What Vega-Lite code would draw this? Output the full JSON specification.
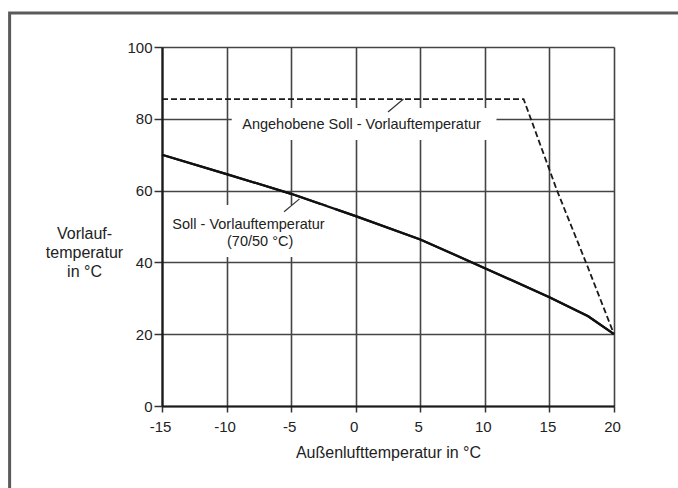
{
  "$schema": "https://vega.github.io/schema/vega-lite/v6.json",
  "width": 452,
  "height": 359,
  "autosize": "none",
  "padding": {"left": 162, "top": 47, "right": 64, "bottom": 82},
  "background": "white",
  "config": {
    "view": {"stroke": null},
    "font": "Liberation Sans",
    "axis": {
      "gridColor": "#444444",
      "gridWidth": 1.6,
      "domainColor": "#1a1a1a",
      "domainWidth": 2.2,
      "tickColor": "#333333",
      "tickWidth": 1.5,
      "labelColor": "#222222",
      "titleColor": "#222222",
      "labelFontSize": 15,
      "titleFontSize": 16,
      "titleFontWeight": "normal",
      "labelFlush": false
    }
  },
  "datasets": {
    "curves": [
      {"aussen": -15, "vorlauf": 70.0, "kurve": "Soll - Vorlauftemperatur (70/50 °C)"},
      {"aussen": -10, "vorlauf": 64.6, "kurve": "Soll - Vorlauftemperatur (70/50 °C)"},
      {"aussen": -5, "vorlauf": 59.1, "kurve": "Soll - Vorlauftemperatur (70/50 °C)"},
      {"aussen": 0, "vorlauf": 52.9, "kurve": "Soll - Vorlauftemperatur (70/50 °C)"},
      {"aussen": 5, "vorlauf": 46.4, "kurve": "Soll - Vorlauftemperatur (70/50 °C)"},
      {"aussen": 10, "vorlauf": 38.4, "kurve": "Soll - Vorlauftemperatur (70/50 °C)"},
      {"aussen": 15, "vorlauf": 30.3, "kurve": "Soll - Vorlauftemperatur (70/50 °C)"},
      {"aussen": 18, "vorlauf": 25.0, "kurve": "Soll - Vorlauftemperatur (70/50 °C)"},
      {"aussen": 20, "vorlauf": 20.0, "kurve": "Soll - Vorlauftemperatur (70/50 °C)"},
      {"aussen": -15, "vorlauf": 85.5, "kurve": "Angehobene Soll - Vorlauftemperatur"},
      {"aussen": 13.0, "vorlauf": 85.5, "kurve": "Angehobene Soll - Vorlauftemperatur"},
      {"aussen": 13.6, "vorlauf": 79.6, "kurve": "Angehobene Soll - Vorlauftemperatur"},
      {"aussen": 15.6, "vorlauf": 59.9, "kurve": "Angehobene Soll - Vorlauftemperatur"},
      {"aussen": 17.85, "vorlauf": 39.8, "kurve": "Angehobene Soll - Vorlauftemperatur"},
      {"aussen": 20, "vorlauf": 20.0, "kurve": "Angehobene Soll - Vorlauftemperatur"}
    ],
    "one": [{"a": 1}]
  },
  "layer": [
    {
      "data": {"name": "curves"},
      "transform": [{"filter": "datum.kurve === 'Soll - Vorlauftemperatur (70/50 °C)'"}],
      "mark": {"type": "line", "color": "#111111", "strokeWidth": 2.2},
      "encoding": {
        "x": {
          "field": "aussen", "type": "quantitative",
          "scale": {"domain": [-15, 20], "nice": false, "zero": false},
          "axis": {
            "values": [-15, -10, -5, 0, 5, 10, 15, 20],
            "grid": true,
            "tickSize": 6,
            "labelPadding": 7,
            "labelOffset": -2,
            "labelExpr": "toString(datum.value)",
            "title": "Außenlufttemperatur in °C",
            "titleBaseline": "alphabetic",
            "titleX": 226,
            "titleY": 51
          }
        },
        "y": {
          "field": "vorlauf", "type": "quantitative",
          "scale": {"domain": [0, 100], "nice": false},
          "axis": {
            "values": [0, 20, 40, 60, 80, 100],
            "grid": true,
            "tickSize": 8,
            "labelPadding": 2,
            "title": ["Vorlauf-", "temperatur", "in °C"],
            "titleAngle": 0,
            "titleAlign": "center",
            "titleBaseline": "middle",
            "titleLineHeight": 19,
            "titleX": -78,
            "titleY": 186
          }
        }
      }
    },
    {
      "data": {"name": "one"},
      "mark": {"type": "rect", "filled": false, "stroke": "#5a5a5a", "strokeWidth": 3},
      "encoding": {
        "x": {"datum": -26.8, "type": "quantitative"},
        "x2": {"datum": 25.5},
        "y": {"datum": 109.5, "type": "quantitative"},
        "y2": {"datum": -25}
      }
    },
    {
      "data": {"name": "one"},
      "mark": {"type": "rect", "fill": "white"},
      "encoding": {
        "x": {"datum": -9.6, "type": "quantitative"},
        "x2": {"datum": 10.9},
        "y": {"datum": 83.0, "type": "quantitative"},
        "y2": {"datum": 74.1}
      }
    },
    {
      "data": {"name": "one"},
      "mark": {"type": "rect", "fill": "white"},
      "encoding": {
        "x": {"datum": -14.5, "type": "quantitative"},
        "x2": {"datum": -1.6},
        "y": {"datum": 56.0, "type": "quantitative"},
        "y2": {"datum": 41.5}
      }
    },
    {
      "data": {"name": "curves"},
      "transform": [{"filter": "datum.kurve === 'Soll - Vorlauftemperatur (70/50 °C)'"}],
      "mark": {"type": "line", "color": "#111111", "strokeWidth": 2.2},
      "encoding": {
        "x": {"field": "aussen", "type": "quantitative"},
        "y": {"field": "vorlauf", "type": "quantitative"}
      }
    },
    {
      "data": {"name": "curves"},
      "transform": [{"filter": "datum.kurve === 'Angehobene Soll - Vorlauftemperatur'"}],
      "mark": {"type": "line", "color": "#1a1a1a", "strokeWidth": 1.8, "strokeDash": [6, 3]},
      "encoding": {
        "x": {"field": "aussen", "type": "quantitative"},
        "y": {"field": "vorlauf", "type": "quantitative"}
      }
    },
    {
      "data": {"name": "one"},
      "mark": {"type": "rule", "color": "#333333", "strokeWidth": 1.2},
      "encoding": {
        "x": {"datum": 2.5, "type": "quantitative"},
        "x2": {"datum": 3.7},
        "y": {"datum": 81.9, "type": "quantitative"},
        "y2": {"datum": 85.5}
      }
    },
    {
      "data": {"name": "one"},
      "mark": {"type": "rule", "color": "#333333", "strokeWidth": 1.2},
      "encoding": {
        "x": {"datum": -5.55, "type": "quantitative"},
        "x2": {"datum": -4.35},
        "y": {"datum": 54.1, "type": "quantitative"},
        "y2": {"datum": 57.7}
      }
    },
    {
      "data": {"name": "one"},
      "mark": {"type": "text", "fontSize": 14.5, "color": "#222222", "align": "center", "baseline": "alphabetic"},
      "encoding": {
        "x": {"datum": 0.45, "type": "quantitative"},
        "y": {"datum": 77.1, "type": "quantitative"},
        "text": {"value": "Angehobene Soll - Vorlauftemperatur"}
      }
    },
    {
      "data": {"name": "one"},
      "mark": {"type": "text", "fontSize": 14.5, "color": "#222222", "align": "center", "baseline": "alphabetic"},
      "encoding": {
        "x": {"datum": -8.3, "type": "quantitative"},
        "y": {"datum": 49.4, "type": "quantitative"},
        "text": {"value": "Soll - Vorlauftemperatur"}
      }
    },
    {
      "data": {"name": "one"},
      "mark": {"type": "text", "fontSize": 14.5, "color": "#222222", "align": "center", "baseline": "alphabetic"},
      "encoding": {
        "x": {"datum": -7.4, "type": "quantitative"},
        "y": {"datum": 44.6, "type": "quantitative"},
        "text": {"value": "(70/50 °C)"}
      }
    }
  ]
}
